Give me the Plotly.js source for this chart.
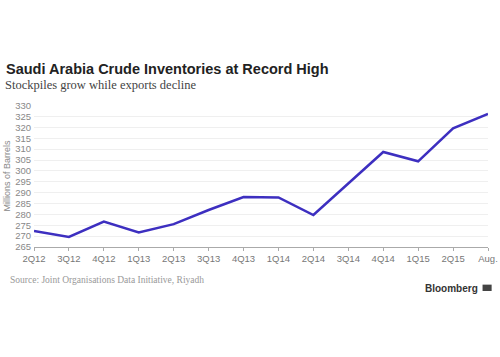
<!DOCTYPE html>
<html>
<head>
<meta charset="utf-8">
<script src="https://cdn.plot.ly/plotly-3.0.1.min.js"></script>
<style>html,body{margin:0;padding:0;background:#fff;}#chart{width:500px;height:357px;}</style>
</head>
<body>
<div id="chart"></div>
<script>
const quarters = ['2Q12','3Q12','4Q12','1Q13','2Q13','3Q13','4Q13','1Q14','2Q14','3Q14','4Q14','1Q15','2Q15','Aug.'];
const inventories = [272.4, 269.6, 276.7, 271.7, 275.5, 282.0, 288.0, 287.8, 279.7, 294.2, 308.7, 304.4, 319.6, 326.2];
const yTicks = [265,270,275,280,285,290,295,300,305,310,315,320,325,330];

const trace = {
  x: quarters.map((q,i)=>i),
  y: inventories,
  type: 'scatter',
  mode: 'lines',
  line: {color: '#3d2fc0', width: 2.5},
  hoverinfo: 'skip'
};

const layout = {
  width: 500, height: 357,
  paper_bgcolor: '#fff', plot_bgcolor: '#fff',
  margin: {l: 34, r: 12, t: 105, b: 110},
  showlegend: false,
  title: {
    text: '<b>Saudi Arabia Crude Inventories at Record High</b>',
    font: {family: 'Liberation Sans, Arial, sans-serif', size: 14.5, color: '#222'},
    xref: 'container', yref: 'container', x: 0.012, xanchor: 'left', y: 0.806, yanchor: 'middle'
  },
  xaxis: {
    range: [0, 13],
    tickmode: 'array',
    tickvals: quarters.map((q,i)=>i),
    ticktext: quarters,
    showgrid: false,
    zeroline: false,
    showline: true, linecolor: '#aaa', linewidth: 1,
    ticks: 'outside', ticklen: 3, tickcolor: '#aaa',
    tickfont: {family: 'Liberation Sans, Arial, sans-serif', size: 9.5, color: '#777'}
  },
  yaxis: {
    range: [265, 330.3],
    tickmode: 'array',
    tickvals: yTicks,
    showgrid: true, gridcolor: '#efefef', gridwidth: 1,
    zeroline: false, showline: false,
    ticks: '', ticklabelstandoff: 2,
    tickfont: {family: 'Liberation Sans, Arial, sans-serif', size: 9.5, color: '#888'},
    title: {text: 'Millions of Barrels', standoff: 2,
      font: {family: 'Liberation Sans, Arial, sans-serif', size: 9, color: '#888'}}
  },
  annotations: [
    {text: 'Stockpiles grow while exports decline', xref: 'paper', yref: 'paper',
      x: -0.068, y: 1.14, xanchor: 'left', yanchor: 'middle', showarrow: false,
      font: {family: 'Liberation Serif, serif', size: 12.5, color: '#444'}},
    {text: 'Source: Joint Organisations Data Initiative, Riyadh', xref: 'paper', yref: 'paper',
      x: -0.058, y: -0.235, xanchor: 'left', yanchor: 'middle', showarrow: false,
      font: {family: 'Liberation Serif, serif', size: 9.5, color: '#999'}},
    {text: '<b>Bloomberg</b>', xref: 'paper', yref: 'paper',
      x: 0.982, y: -0.29, xanchor: 'right', yanchor: 'middle', showarrow: false,
      font: {family: 'Liberation Sans, Arial, sans-serif', size: 10, color: '#333'}}
  ],
  shapes: [
    {type: 'rect', xref: 'paper', yref: 'paper', x0: 0.988, x1: 1.008, y0: -0.31, y1: -0.265,
      fillcolor: '#444', line: {width: 0}}
  ]
};

Plotly.newPlot('chart', [trace], layout, {displayModeBar: false, staticPlot: true});
</script>
</body>
</html>
